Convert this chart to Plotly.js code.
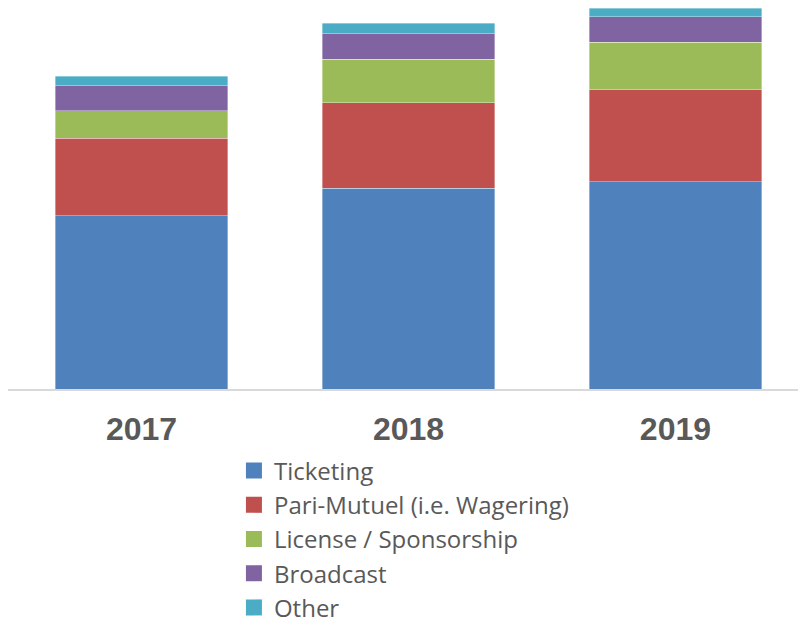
<!DOCTYPE html>
<html>
<head>
<meta charset="utf-8">
<script src="https://cdn.plot.ly/plotly-3.0.1.min.js"></script>
<style>
  html, body { margin: 0; padding: 0; background: #ffffff; }
  #chart { width: 798px; height: 626px; }
</style>
</head>
<body>
<div id="chart"></div>
<script>
// Categories (years)
var years = ['2017', '2018', '2019'];

var ticketing  = [173.3, 200.7, 207.3];
var pariMutuel = [77.4, 85.6, 92.0];
var license    = [27.6, 43.7, 47.7];
var broadcast  = [25.0, 25.3, 25.3];
var other      = [9.4, 10.4, 8.7];

var seriesNames  = ['Ticketing', 'Pari-Mutuel (i.e. Wagering)', 'License / Sponsorship', 'Broadcast', 'Other'];
var seriesValues = [ticketing, pariMutuel, license, broadcast, other];
var seriesColors = ['#4F81BD', '#C0504D', '#9BBB59', '#8064A2', '#4BACC6'];

var traces = [];
seriesNames.forEach(function (name, i) {
  traces.push({
    type: 'bar',
    name: name,
    x: years,
    y: seriesValues[i],
    marker: { color: seriesColors[i], line: { color: 'rgba(255,255,255,0.45)', width: 0.8 } },
    showlegend: false,
    legendgroup: name,
    hoverinfo: 'x+y+name'
  });
});
// Legend entries (square swatches)
seriesNames.forEach(function (name, i) {
  traces.push({
    type: 'scatter',
    mode: 'markers',
    name: name,
    x: [null],
    y: [null],
    marker: { symbol: 'square', size: 16, color: seriesColors[i] },
    legendgroup: name,
    showlegend: true,
    hoverinfo: 'skip'
  });
});

var layout = {
  width: 798,
  height: 626,
  margin: { l: 8, r: 0, t: 0, b: 237, autoexpand: false },
  paper_bgcolor: '#ffffff',
  plot_bgcolor: '#ffffff',
  barmode: 'stack',
  bargap: 0.354,
  showlegend: true,
  legend: {
    orientation: 'v',
    x: 0.286,
    xanchor: 'left',
    y: -0.153,
    yanchor: 'top',
    maxheight: 400,
    traceorder: 'normal',
    itemsizing: 'trace',
    font: { family: '"Open Sans", Lato, sans-serif', size: 24, color: '#595959' },
    bgcolor: 'rgba(0,0,0,0)',
    borderwidth: 0,
    tracegroupgap: 0
  },
  xaxis: {
    type: 'category',
    range: [-0.5, 2.459],
    showline: true,
    linecolor: '#d9d9d9',
    linewidth: 2,
    ticks: '',
    showgrid: false,
    zeroline: false,
    tickfont: { family: '"Liberation Sans", Arial, sans-serif', size: 32, color: '#595959', weight: 'bold' },
    ticklabelstandoff: 11,
    fixedrange: true
  },
  yaxis: {
    range: [0, 389],
    visible: false,
    showgrid: false,
    zeroline: false,
    fixedrange: true
  }
};

Plotly.newPlot('chart', traces, layout, { displayModeBar: false, staticPlot: true });
</script>
</body>
</html>
